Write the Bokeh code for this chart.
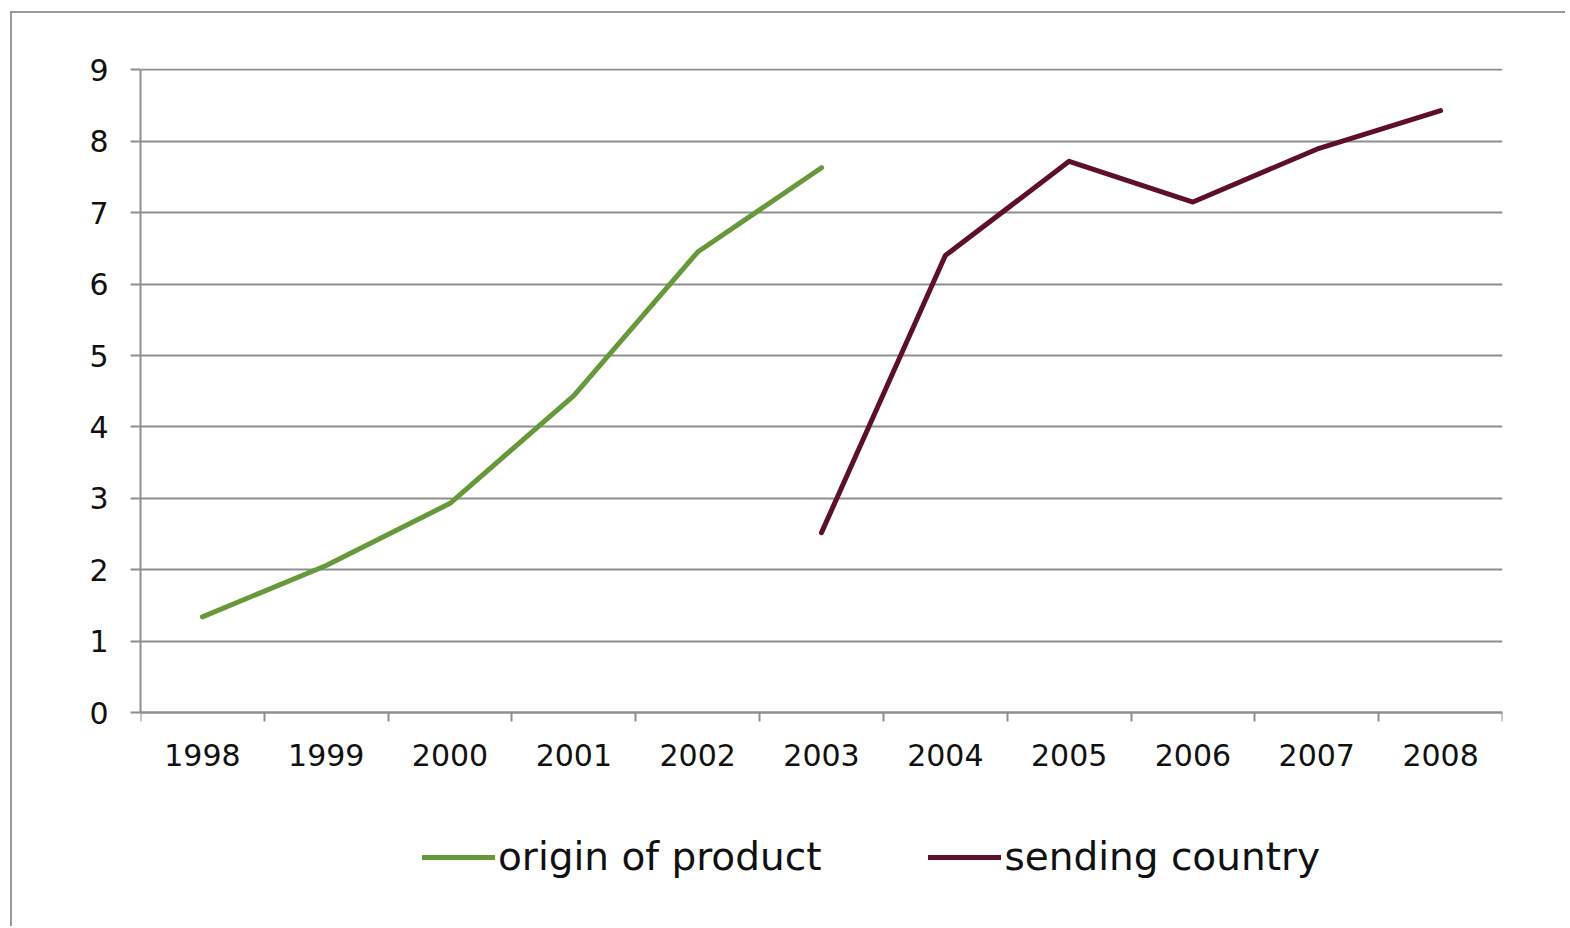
from bokeh.plotting import figure
from bokeh.models import Range1d, FixedTicker, Legend, LegendItem, ColumnDataSource
from bokeh.embed import file_html
from bokeh.resources import INLINE

# Category labels along the x axis
years = ["1998", "1999", "2000", "2001", "2002", "2003",
         "2004", "2005", "2006", "2007", "2008"]

# Series values
origin_years = ["1998", "1999", "2000", "2001", "2002", "2003"]
origin_values = [1.34, 2.06, 2.93, 4.44, 6.45, 7.63]

sending_years = ["2003", "2004", "2005", "2006", "2007", "2008"]
sending_values = [2.52, 6.40, 7.72, 7.15, 7.89, 8.43]

y_ticks = [0, 1, 2, 3, 4, 5, 6, 7, 8, 9]

GREEN = "#67983a"
MAROON = "#5e1027"
GRID = "#8e8e8e"
FONT = "DejaVu Sans"

# Each category occupies one unit band; points sit in the middle of the band
pos = {y: i + 0.5 for i, y in enumerate(years)}

# The plotting area reaches below zero so that the legend sits inside it;
# the x axis is pinned at y = 0.
p = figure(width=1555, height=915, output_backend="svg", toolbar_location=None,
           x_range=Range1d(0, len(years)), y_range=Range1d(-2.8, 9.02),
           min_border_left=128, min_border_right=65,
           min_border_top=55, min_border_bottom=16)
p.outline_line_color = None
p.background_fill_color = "white"
p.border_fill_color = "white"
# thin frame around the whole chart
p.styles = {"border-left": "2px solid #9a9a9a", "border-top": "2px solid #9a9a9a",
            "margin-left": "10px", "margin-top": "11px"}

# x axis: labels at band centres, tick marks on band boundaries
xt = FixedTicker(ticks=[pos[y] for y in years],
                 minor_ticks=list(range(len(years) + 1)))
p.xaxis.fixed_location = 0
p.xaxis.ticker = xt
p.xaxis.major_label_overrides = {pos[y]: y for y in years}
p.xaxis.major_tick_line_color = None
p.xaxis.minor_tick_line_color = GRID
p.xaxis.minor_tick_line_width = 2
p.xaxis.minor_tick_out = 9
p.xaxis.minor_tick_in = 0
p.xaxis.axis_line_color = GRID
p.xaxis.axis_line_width = 2
p.xaxis.major_label_text_font = FONT
p.xaxis.major_label_text_font_size = "30px"
p.xaxis.major_label_text_color = "#111111"
p.xaxis.major_label_standoff = 22

p.yaxis.ticker = FixedTicker(ticks=y_ticks, minor_ticks=[])
p.yaxis.bounds = (0, 9)
p.yaxis.axis_line_color = GRID
p.yaxis.axis_line_width = 2
p.yaxis.major_tick_line_color = GRID
p.yaxis.major_tick_line_width = 2
p.yaxis.major_tick_out = 10
p.yaxis.major_tick_in = 0
p.yaxis.major_label_text_font = FONT
p.yaxis.major_label_text_font_size = "30px"
p.yaxis.major_label_text_color = "#111111"
p.yaxis.major_label_standoff = 22

p.xgrid.grid_line_color = None
p.ygrid.ticker = FixedTicker(ticks=y_ticks)
p.ygrid.grid_line_color = GRID
p.ygrid.grid_line_width = 2

src_o = ColumnDataSource(dict(x=[pos[y] for y in origin_years], y=origin_values))
src_s = ColumnDataSource(dict(x=[pos[y] for y in sending_years], y=sending_values))

r_o = p.line("x", "y", source=src_o, line_color=GREEN, line_width=5,
             line_cap="round", line_join="round")
r_s = p.line("x", "y", source=src_s, line_color=MAROON, line_width=5,
             line_cap="round", line_join="round")

legend = Legend(items=[LegendItem(label="origin of product", renderers=[r_o]),
                       LegendItem(label="sending country", renderers=[r_s])],
                orientation="horizontal", location=(282, 33),
                glyph_width=73, glyph_height=40, label_standoff=3, spacing=107,
                padding=0, margin=0, border_line_color=None,
                background_fill_alpha=0,
                label_text_font=FONT, label_text_font_size="39px",
                label_text_color="#111111")
p.add_layout(legend, "center")

open("out.html", "w").write(file_html(p, INLINE))
